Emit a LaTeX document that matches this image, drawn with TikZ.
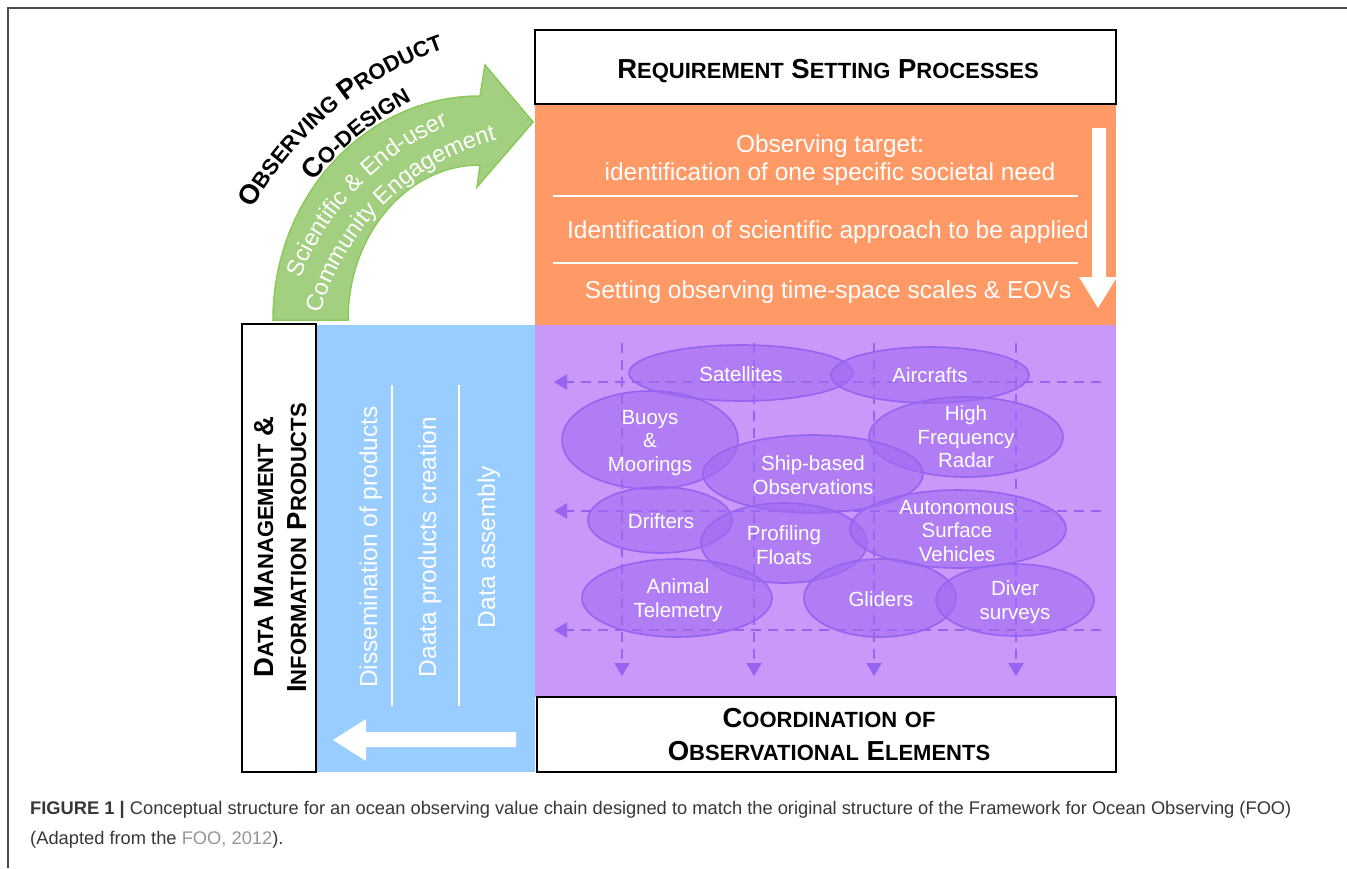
\documentclass[tikz,border=0pt]{standalone}
\usepackage{fontspec}
\setmainfont{Liberation Sans}
\usetikzlibrary{shapes.geometric}
\usetikzlibrary{arrows.meta}
\usetikzlibrary{decorations.text}
\definecolor{reqorange}{RGB}{255,153,102}
\definecolor{obspurple}{RGB}{201,152,248}
\definecolor{ovalfill}{RGB}{160,108,243}
\definecolor{ovaledge}{RGB}{150,100,240}
\definecolor{dmblue}{RGB}{153,204,255}
\definecolor{codgreen}{RGB}{163,208,128}
\definecolor{codedge}{RGB}{140,200,90}
\definecolor{captext}{RGB}{55,55,55}
\definecolor{caplink}{RGB}{150,150,150}
\newcommand{\scbig}{\bfseries\fontsize{27.5}{33}\selectfont}
\newcommand{\scsmall}{\bfseries\fontsize{22}{26}\selectfont}
\newcommand{\scword}[2]{{\scbig #1}{\scsmall #2}}

\begin{document}
\begin{tikzpicture}[x=1pt, y=1pt,
  boxed/.style={line width=2pt, fill=white},
  oval/.style={draw=ovaledge, line width=1.6pt, fill=ovalfill, fill opacity=0.6},
  ovaltext/.style={text=white, font=\fontsize{20.5}{23.5}\selectfont, align=center, inner sep=0pt},
  flowline/.style={draw=ovaledge, line width=2.2pt, dash pattern=on 10pt off 7pt, -{Triangle[length=13pt, width=15pt]}},
  bandtext/.style={text=white, font=\fontsize{24.5}{28}\selectfont, inner sep=0pt, anchor=base},
  headtext/.style={font=\scbig, inner sep=0pt, anchor=base}]
	\useasboundingbox (0,0) rectangle (1347,-868);
	% frame
	\draw[color=gray!60!black, line width=1.5pt] (8,-868) -- (8,-8) -- (1347,-8);

	% coloured blocks
	\fill[dmblue] (317,-325) rectangle (535,-772);
	\fill[reqorange] (535,-104) rectangle (1116,-325);
	\fill[obspurple] (535,-325) rectangle (1116,-697);
	\filldraw[boxed] (535,-30) rectangle (1116,-104);
	\filldraw[boxed] (537,-697) rectangle (1116,-772);
	\filldraw[boxed] (242,-324) rectangle (316,-772);

	% co-design arrow
	\filldraw[fill=codgreen, draw=codedge, line width=1.5pt] (273,-320) arc[start angle=180, end angle=90, x radius=207, y radius=224] -- (485,-65) -- (533,-122) -- (477,-187) -- (480,-165) arc[start angle=90, end angle=180, x radius=132, y radius=155] -- cycle;
	\path[decorate, decoration={text along path, text align=center, text={|\color{white}\fontsize{23.5}{23.5}\selectfont|Scientific {\&} End-user}}] (560,-381) ++(165:279) arc[start angle=165, end angle=107, radius=279];
	\path[decorate, decoration={text along path, text align=center, text={|\color{white}\fontsize{23.5}{23.5}\selectfont|Community Engagement}}] (560,-381) ++(172:249) arc[start angle=172, end angle=97, radius=249];
	\path[decorate, decoration={text along path, text align=center, text={|\scbig|O|\scsmall|BSERVING |\scbig|P|\scsmall|RODUCT}}] (560,-381) ++(158:352) arc[start angle=158, end angle=102, radius=352];
	\path[decorate, decoration={text along path, text align=center, text={|\scbig|C|\scsmall|O-DESIGN}}] (560,-381) ++(150:317) arc[start angle=150, end angle=109, radius=317];

	% requirement setting
	\node[headtext] (req) at (828,-78) {\scword{R}{EQUIREMENT} \scword{S}{ETTING} \scword{P}{ROCESSES}};
	\node[bandtext] (target) at (830,-152) {Observing target:};
	\node[bandtext] (need) at (830,-180) {identification of one specific societal need};
	\node[bandtext] (approach) at (828,-238) {Identification of scientific approach to be applied};
	\node[bandtext] (scales) at (828,-298) {Setting observing time-space scales \& EOVs};
	\draw[white, line width=2pt] (553,-196) -- (1078,-196);
	\draw[white, line width=2pt] (553,-263) -- (1078,-263);
	\fill[white] (1092,-128) -- (1106,-128) -- (1106,-277) -- (1117,-277) -- (1098,-308) -- (1079,-277) -- (1092,-277) -- cycle;

	% data management
	\node[headtext, rotate=90] (dm1) at (273,-547) {\scword{D}{ATA} \scword{M}{ANAGEMENT} \&};
	\node[headtext, rotate=90] (dm2) at (306,-548) {\scword{I}{NFORMATION} \scword{P}{RODUCTS}};
	\node[bandtext, rotate=90] (dissem) at (377,-547) {Dissemination of products};
	\node[bandtext, rotate=90] (create) at (436,-547) {Daata products creation};
	\node[bandtext, rotate=90] (assem) at (495,-547) {Data assembly};
	\draw[white, line width=2pt] (392,-385) -- (392,-706);
	\draw[white, line width=2pt] (459,-385) -- (459,-706);
	\fill[white] (516,-732) -- (366,-732) -- (366,-719) -- (333,-740) -- (366,-761) -- (366,-747) -- (516,-747) -- cycle;

	% coordination
	\node[headtext] (coord1) at (829,-727) {\scword{C}{OORDINATION} \scword{}{OF}};
	\node[headtext] (coord2) at (829,-760) {\scword{O}{BSERVATIONAL} \scword{E}{LEMENTS}};

	% dashed flows
	\coordinate (h1) at (1101,-382); \coordinate (h1end) at (554,-382);
	\coordinate (h2) at (1101,-511); \coordinate (h2end) at (554,-511);
	\coordinate (h3) at (1101,-630); \coordinate (h3end) at (554,-630);
	\coordinate (v1) at (622,-343); \coordinate (v1end) at (622,-676);
	\coordinate (v2) at (754,-343); \coordinate (v2end) at (754,-676);
	\coordinate (v3) at (874,-343); \coordinate (v3end) at (874,-676);
	\coordinate (v4) at (1016,-343); \coordinate (v4end) at (1016,-676);
	\draw[flowline] (h1) -- (h1end);
	\draw[flowline] (h2) -- (h2end);
	\draw[flowline] (h3) -- (h3end);
	\draw[flowline] (v1) -- (v1end);
	\draw[flowline] (v2) -- (v2end);
	\draw[flowline] (v3) -- (v3end);
	\draw[flowline] (v4) -- (v4end);

	% observing elements
	\filldraw[oval] (741,-373) ellipse [x radius=112, y radius=28];
	\filldraw[oval] (930,-375) ellipse [x radius=99, y radius=28];
	\filldraw[oval] (650,-440) ellipse [x radius=88, y radius=49];
	\filldraw[oval] (966,-437) ellipse [x radius=97, y radius=40];
	\filldraw[oval] (813,-474) ellipse [x radius=110, y radius=39];
	\filldraw[oval] (660,-520) ellipse [x radius=72, y radius=33];
	\filldraw[oval] (784,-543) ellipse [x radius=83, y radius=40];
	\filldraw[oval] (958,-529) ellipse [x radius=108, y radius=39];
	\filldraw[oval] (677,-598) ellipse [x radius=95, y radius=39];
	\filldraw[oval] (880,-598) ellipse [x radius=76, y radius=39];
	\filldraw[oval] (1015,-600) ellipse [x radius=79, y radius=36];
	\node[ovaltext] (sat) at (741,-374) {Satellites};
	\node[ovaltext] (air) at (930,-375) {Aircrafts};
	\node[ovaltext] (buoy) at (650,-443) {Buoys\\\&\\Moorings};
	\node[ovaltext] (hfr) at (966,-437) {High\\Frequency\\Radar};
	\node[ovaltext] (ship) at (813,-475) {Ship-based\\Observations};
	\node[ovaltext] (drift) at (661,-521) {Drifters};
	\node[ovaltext] (prof) at (784,-545) {Profiling\\Floats};
	\node[ovaltext] (asv) at (957,-531) {Autonomous\\Surface\\Vehicles};
	\node[ovaltext] (anim) at (678,-600) {Animal\\Telemetry};
	\node[ovaltext] (glid) at (881,-599) {Gliders};
	\node[ovaltext] (diver) at (1015,-602) {Diver\\surveys};

	% caption
	\node[anchor=base west, inner sep=0pt, text=captext, font=\fontsize{18.3}{22}\selectfont] (cap1) at (30,-814) {\textbf{FIGURE 1 |} Conceptual structure for an ocean observing value chain designed to match the original structure of the Framework for Ocean Observing (FOO)};
	\node[anchor=base west, inner sep=0pt, text=captext, font=\fontsize{18.3}{22}\selectfont] (cap2) at (30,-844) {(Adapted from the \textcolor{caplink}{FOO, 2012}).};
\end{tikzpicture}
\end{document}
